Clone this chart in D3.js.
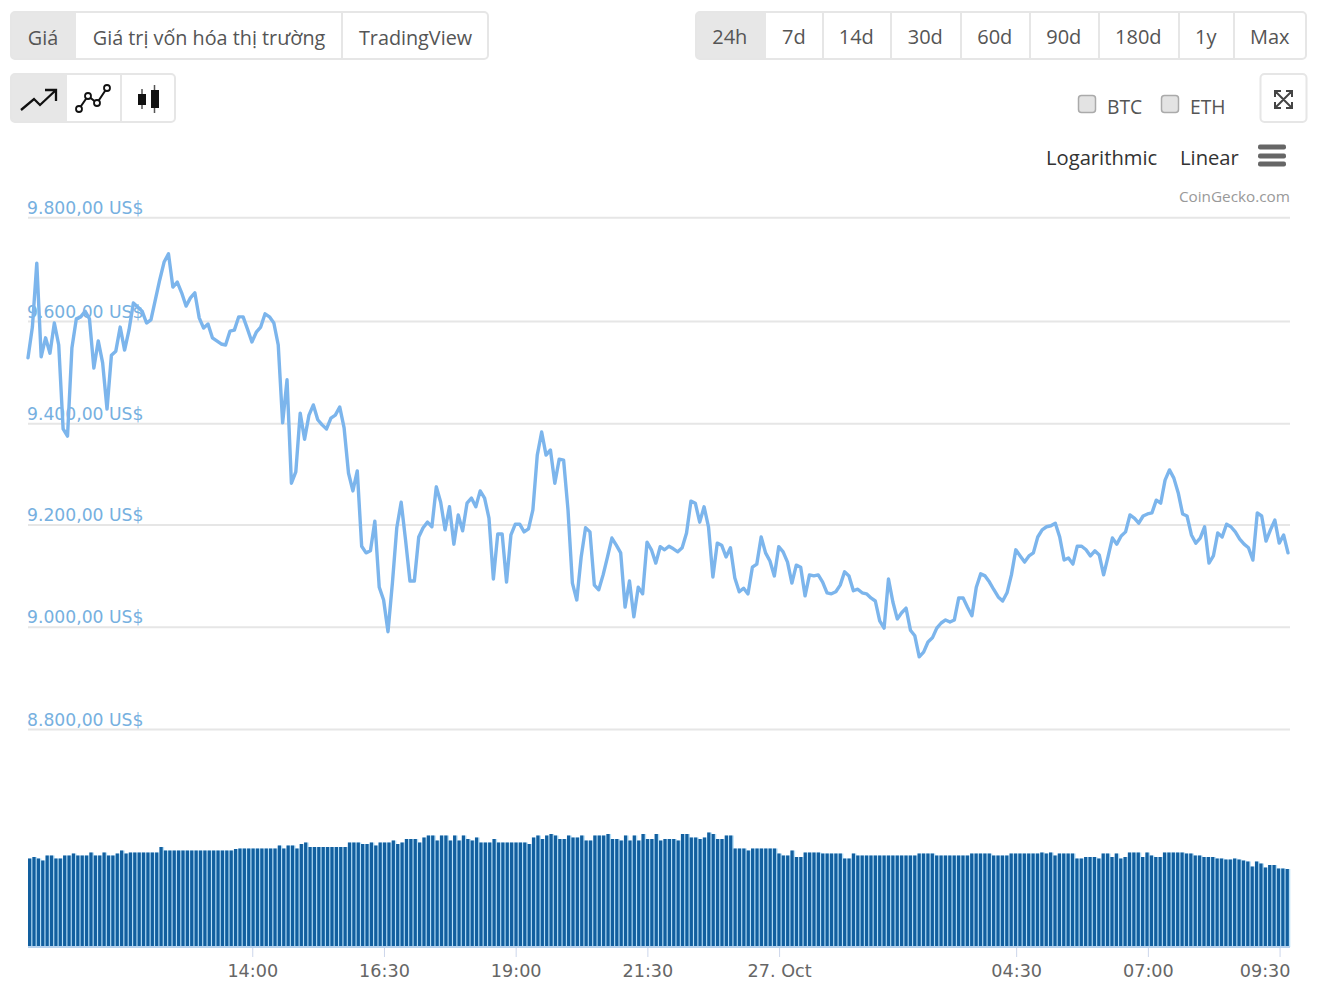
<!DOCTYPE html>
<html><head><meta charset="utf-8">
<script src="https://cdn.jsdelivr.net/npm/d3@7/dist/d3.min.js"></script>
<style>
html,body{margin:0;padding:0;background:#fff;overflow:hidden}
svg{display:block}
text{font-family:"Open Sans",sans-serif}
</style></head><body>
<svg id="c" width="1317" height="1000"></svg>
<script>
const prices = [
9525,9585,9710,9527,9564,9534,9593,9550,9386,9372,9544,9601,9605,9616,9601,9505,9558,9515,9425,9530,
9538,9585,9540,9579,9632,9624,9616,9593,9599,9638,9677,9712,9728,9663,9673,9652,9626,9642,9652,9603,
9583,9591,9564,9558,9552,9550,9577,9579,9605,9605,9581,9556,9575,9585,9611,9605,9593,9550,9398,9482,
9280,9302,9417,9366,9413,9433,9404,9394,9386,9407,9413,9429,9388,9300,9265,9304,9157,9144,9148,9206,
9077,9052,8990,9085,9193,9243,9169,9089,9089,9175,9193,9204,9195,9273,9243,9189,9234,9161,9218,9187,
9241,9251,9234,9265,9251,9212,9093,9181,9181,9087,9179,9200,9200,9185,9191,9228,9335,9380,9335,9345,
9280,9327,9325,9228,9085,9052,9136,9193,9185,9081,9072,9101,9136,9173,9159,9144,9038,9089,9019,9077,
9064,9165,9150,9124,9156,9150,9157,9152,9146,9154,9183,9245,9241,9204,9234,9195,9097,9163,9159,9136,
9154,9095,9068,9075,9064,9116,9122,9175,9144,9128,9099,9156,9146,9126,9085,9120,9116,9060,9101,9099,
9101,9087,9066,9064,9068,9081,9107,9099,9070,9073,9066,9064,9056,9050,9011,8997,9093,9048,9015,9027,
9036,8993,8982,8941,8950,8970,8978,8997,9007,9013,9009,9013,9056,9056,9038,9021,9077,9103,9099,9087,
9072,9058,9050,9066,9101,9150,9138,9126,9138,9144,9175,9189,9195,9197,9202,9175,9130,9134,9122,9157,
9157,9150,9138,9148,9140,9101,9136,9173,9161,9177,9185,9218,9212,9202,9216,9220,9222,9247,9241,9286,
9306,9290,9261,9220,9216,9179,9163,9173,9195,9124,9138,9183,9175,9200,9195,9185,9171,9161,9154,9130,
9222,9216,9167,9189,9208,9163,9179,9144];
const volumes = [
17.7,18.0,17.7,17.3,18.3,18.3,17.7,17.7,18.3,18.3,18.7,18.3,18.3,18.3,18.9,18.3,18.3,18.9,18.3,18.3,
18.7,19.3,18.7,18.9,18.9,18.9,18.9,18.9,18.9,18.9,20.0,19.3,19.3,19.3,19.3,19.3,19.3,19.3,19.3,19.3,
19.3,19.3,19.3,19.3,19.3,19.3,19.3,19.6,19.7,19.7,19.7,19.7,19.7,19.7,19.7,19.7,19.7,20.3,19.7,20.3,
20.3,19.7,20.6,20.9,20.0,20.0,20.0,20.0,20.0,20.0,20.0,20.0,20.0,20.9,20.9,20.9,20.6,20.6,20.9,20.3,
20.9,20.9,20.9,21.3,20.6,20.9,21.6,21.6,21.6,20.9,21.9,22.3,22.3,21.3,22.3,22.3,21.3,22.3,21.3,22.3,
21.6,21.3,21.9,20.9,20.9,20.9,21.6,20.9,20.9,20.9,20.9,20.9,20.9,20.9,20.6,21.9,22.3,21.6,22.3,22.6,
22.3,21.6,21.6,22.3,21.9,21.9,22.3,21.3,21.3,22.3,22.3,22.3,22.6,21.6,21.6,21.3,22.3,21.3,22.3,21.3,
22.6,21.6,21.6,22.6,21.3,21.6,21.6,21.6,21.3,22.6,22.6,21.9,21.9,21.6,21.9,22.9,22.6,21.6,21.6,22.3,
22.3,19.7,19.7,19.7,19.3,19.7,19.7,19.7,19.7,19.7,19.7,18.7,18.3,18.3,19.3,18.0,18.0,18.9,18.9,18.9,
18.9,18.7,18.7,18.7,18.7,18.7,17.7,17.7,18.7,18.3,18.3,18.3,18.3,18.3,18.3,18.3,18.3,18.3,18.3,18.3,
18.3,18.3,18.3,18.7,18.7,18.7,18.7,18.3,18.3,18.3,18.3,18.3,18.3,18.3,18.3,18.7,18.7,18.7,18.7,18.7,
18.3,18.3,18.3,18.3,18.7,18.7,18.7,18.7,18.7,18.7,18.7,18.9,18.7,18.9,18.3,18.7,18.7,18.7,18.7,17.7,
17.7,18.0,18.0,18.0,17.7,18.7,18.7,18.0,18.7,17.7,18.0,18.9,18.9,18.9,18.0,18.9,18.3,18.0,18.0,18.9,
18.9,18.9,18.9,18.9,18.7,18.7,18.3,18.3,18.0,18.0,18.0,17.7,17.7,17.5,17.5,17.7,17.5,17.3,17.1,16.1,
17.1,16.7,15.9,16.4,16.4,15.7,15.7,15.6];
const priceTicks = [8800,9000,9200,9400,9600,9800];
const timeTicks = ["2019-10-26T14:00","2019-10-26T16:30","2019-10-26T19:00","2019-10-26T21:30","2019-10-27T00:00","2019-10-27T04:30","2019-10-27T07:00","2019-10-27T09:30"];
const timeLabels = ["14:00","16:30","19:00","21:30","27. Oct","04:30","07:00","09:30"];
const startTime = new Date("2019-10-26T09:44:36");
const stepMinutes = 5;
const tabs1 = ["Giá","Giá trị vốn hóa thị trường","TradingView"];
const tabs1Edges = [10,76,342,489];
const tabs2 = ["24h","7d","14d","30d","60d","90d","180d","1y","Max"];
const tabs2Edges = [695,766,823,891,961,1030,1099,1179,1234,1307];
const toggles = ["BTC","ETH"];
const scaleLabels = ["Logarithmic","Linear"];

const svg = d3.select("#c");
const times = prices.map((_,i)=>new Date(+startTime + i*stepMinutes*60000));
const x = d3.scaleTime().domain([times[0],times[times.length-1]]).range([28,1288]);
const y = d3.scaleLinear().domain([8800,9800]).range([729,217]);
const gridY = d3.scaleLinear().domain(priceTicks).range([729,626.7,524.4,423.3,321,217.3]);
const yVol = d3.scaleLinear().domain([0,20]).range([947,847]);
const band = d3.scaleBand().domain(d3.range(volumes.length)).range([28,1290]).paddingInner(0);

// button groups
function group(edges,labels,by,h,fs,baseline,color,dx){
  const g = svg.append("g");
  const x0=edges[0], x1=edges[edges.length-1];
  g.append("rect").attr("x",x0+1).attr("y",by+1).attr("width",x1-x0-2).attr("height",h-2).attr("rx",4).attr("fill","#fff");
  g.append("path").attr("d",`M${x0+5} ${by+1}H${edges[1]}V${by+h-1}H${x0+5}Q${x0+1} ${by+h-1} ${x0+1} ${by+h-5}V${by+5}Q${x0+1} ${by+1} ${x0+5} ${by+1}Z`).attr("fill","#e7e7e7");
  g.append("rect").attr("x",x0+1).attr("y",by+1).attr("width",x1-x0-2).attr("height",h-2).attr("rx",4).attr("fill","none").attr("stroke","#e6e6e6").attr("stroke-width",2);
  edges.slice(2,-1).forEach(e=>g.append("line").attr("x1",e).attr("x2",e).attr("y1",by).attr("y2",by+h).attr("stroke","#e6e6e6").attr("stroke-width",2));
  (labels||[]).forEach((t,i)=>g.append("text").text(t).attr("x",(edges[i]+edges[i+1])/2+(dx||0)).attr("y",baseline).attr("text-anchor","middle").attr("font-size",fs).attr("fill",color));
}
group(tabs1Edges,tabs1,11,49,19.8,45,"#555",0);
group(tabs2Edges,tabs2,11,49,20,44,"#555",-0.7);
group([10,67,121,176],null,73,50,21,0,"#555",0);

// icons
const ink="#111";
svg.append("path").attr("d","M21 110L34 99L40 105L56 90M45 90H56V101").attr("fill","none").attr("stroke",ink).attr("stroke-width",2.3);
svg.append("path").attr("d","M79 109L88 96L97 103L107 88").attr("fill","none").attr("stroke",ink).attr("stroke-width",2);
[[79,109],[88,96],[97,103],[107,88]].forEach(p=>svg.append("circle").attr("cx",p[0]).attr("cy",p[1]).attr("r",3).attr("fill","#fff").attr("stroke",ink).attr("stroke-width",1.8));
svg.append("path").attr("d","M142 89V109M154.5 85V113").attr("stroke","#555").attr("stroke-width",1.5);
svg.append("rect").attr("x",138).attr("y",94).attr("width",8).attr("height",11).attr("fill",ink);
svg.append("rect").attr("x",151).attr("y",90).attr("width",8).attr("height",18).attr("fill",ink);

// expand button
svg.append("rect").attr("x",1260.5).attr("y",74).attr("width",46).attr("height",48).attr("rx",4).attr("fill","#fff").attr("stroke","#e6e6e6").attr("stroke-width",2);
svg.append("path").attr("d","M1275 91L1292 108M1292 91L1275 108M1275 97V91H1281M1286 91H1292V97M1275 102V108H1281M1286 108H1292V102").attr("fill","none").attr("stroke","#444").attr("stroke-width",2);

// checkboxes
[[1078,1107],[1161,1190]].forEach((p,i)=>{
  svg.append("rect").attr("x",p[0]+.5).attr("y",95.5).attr("width",17).attr("height",17).attr("rx",3).attr("fill","#e3e3e3").attr("stroke","#aaa").attr("stroke-width",1.5);
  svg.append("text").text(toggles[i]).attr("x",p[1]).attr("y",113.5).attr("font-size",19.3).attr("fill","#555");
});
[[1046],[1180]].forEach((p,i)=>svg.append("text").text(scaleLabels[i]).attr("x",p[0]).attr("y",165).attr("font-size",20.2).attr("fill","#333"));
[147,156,164].forEach(v=>svg.append("rect").attr("x",1258).attr("y",v-2.5).attr("width",28).attr("height",5).attr("rx",2).attr("fill","#666"));
svg.append("text").text("CoinGecko.com").attr("x",1290).attr("y",202).attr("text-anchor","end").attr("font-size",15.3).attr("fill","#999");

// y axis and grid
const loc = d3.formatLocale({decimal:",",thousands:".",grouping:[3],currency:["","US$"]});
const fmt = loc.format(",.2f");
const yAxis = d3.axisLeft(gridY).tickValues(priceTicks).tickSize(-1262).tickFormat(d=>fmt(d)+" US$");
const gy = svg.append("g").attr("transform","translate(28,0)").call(yAxis);
gy.select(".domain").remove();
gy.selectAll(".tick line").attr("stroke","#e6e6e6").attr("stroke-width",2);
gy.selectAll(".tick text").attr("x",-1).attr("dy",0).attr("y",-4).attr("text-anchor","start").attr("font-size",17.2).attr("fill","#76b0e0").style("font-family",'"DejaVu Sans",sans-serif');

// volume bars
svg.append("g").selectAll("rect").data(volumes).join("rect")
  .attr("x",(d,i)=>band(i)).attr("width",band.step()+.3).attr("y",d=>yVol(d)).attr("height",d=>947-yVol(d)).attr("fill","#b8e0f8");
svg.append("g").selectAll("rect").data(volumes).join("rect")
  .attr("x",(d,i)=>band(i)).attr("width",band.step()*0.74).attr("y",d=>yVol(d)).attr("height",d=>947-yVol(d)).attr("fill","#125f9f");

// x axis
const tickDates = timeTicks.map(t=>new Date(t));
const xAxis = d3.axisBottom(x).tickValues(tickDates).tickSize(10).tickPadding(8).tickFormat((d,i)=>timeLabels[i]);
const gx = svg.append("g").attr("transform","translate(0,947)").call(xAxis);
gx.select(".domain").remove();
svg.append("line").attr("x1",28).attr("x2",1290).attr("y1",947).attr("y2",947).attr("stroke","#b9d3ee").attr("stroke-width",2);
gx.selectAll(".tick line").attr("stroke","#ccd6eb").attr("stroke-width",1);
gx.selectAll(".tick text").attr("font-size",17.6).attr("fill","#666").style("font-family",'"DejaVu Sans",sans-serif');
gx.selectAll(".tick:last-of-type text").attr("text-anchor","end").attr("dx",10.4);

// price line
const line = d3.line().x((d,i)=>x(times[i])).y(d=>y(d));
svg.append("path").datum(prices).attr("d",line).attr("fill","none").attr("stroke","#7cb5ec").attr("stroke-width",3.4).attr("stroke-linejoin","round").attr("stroke-linecap","round");
</script></body></html>
